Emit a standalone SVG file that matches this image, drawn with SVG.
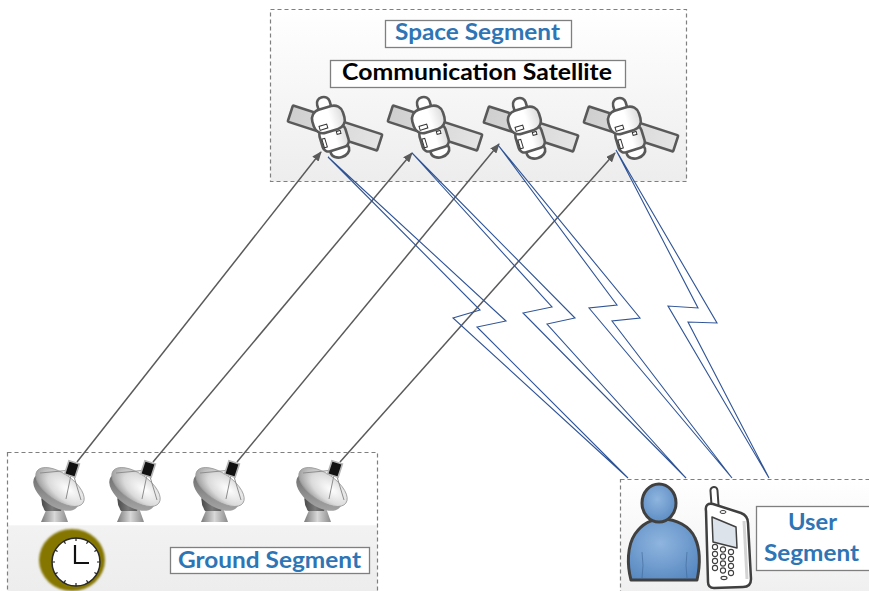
<svg xmlns="http://www.w3.org/2000/svg" xmlns:xlink="http://www.w3.org/1999/xlink" width="869" height="591" viewBox="0 0 869 591">
  <style>
    .seg { stroke: #7f7f7f; stroke-width: 1.2; stroke-dasharray: 4 3; }
    .lbl { fill: #ffffff; stroke: #7f7f7f; stroke-width: 1.3; }
    .txt { font-family: Lato, "Liberation Sans", sans-serif; font-weight: 700; }
    .blue { fill: #2e75b6; }
    .dark { stroke: #595959; stroke-width: 2.6; stroke-linejoin: round; }
    .arrow { stroke: #5a5a5a; stroke-width: 1.5; fill: none; }
    .bolt { stroke: #2f5496; stroke-width: 1.1; fill: none; stroke-linejoin: miter; }
    .ink { stroke: #404040; stroke-linejoin: round; }
  </style>
  <defs>
    <linearGradient id="gBox" x1="0" y1="0" x2="0" y2="1">
      <stop offset="0" stop-color="#ffffff"/>
      <stop offset="1" stop-color="#ededed"/>
    </linearGradient>
    <linearGradient id="gGround" x1="0" y1="0" x2="0" y2="1">
      <stop offset="0" stop-color="#ffffff"/>
      <stop offset="0.48" stop-color="#ffffff"/>
      <stop offset="0.49" stop-color="#f2f2f2"/>
      <stop offset="1" stop-color="#ececec"/>
    </linearGradient>
    <linearGradient id="gPanel" x1="0" y1="0" x2="1" y2="0">
      <stop offset="0" stop-color="#cfcfcf"/>
      <stop offset="1" stop-color="#e4e4e4"/>
    </linearGradient>
    <linearGradient id="gBody" x1="0" y1="0" x2="1" y2="0">
      <stop offset="0" stop-color="#ffffff"/>
      <stop offset="0.55" stop-color="#ffffff"/>
      <stop offset="1" stop-color="#dcdcdc"/>
    </linearGradient>
    <radialGradient id="gDish" cx="0.65" cy="0.4" r="0.7">
      <stop offset="0" stop-color="#ffffff"/>
      <stop offset="0.6" stop-color="#dadada"/>
      <stop offset="1" stop-color="#9a9a9a"/>
    </radialGradient>
    <linearGradient id="gDishBack" x1="0" y1="0" x2="1" y2="1">
      <stop offset="0" stop-color="#5e5e5e"/>
      <stop offset="1" stop-color="#b0b0b0"/>
    </linearGradient>
    <linearGradient id="gPed" x1="0" y1="0" x2="1" y2="0">
      <stop offset="0" stop-color="#4a4a4a"/>
      <stop offset="0.5" stop-color="#7a7a7a"/>
      <stop offset="1" stop-color="#555555"/>
    </linearGradient>
    <linearGradient id="gBase" x1="0" y1="0" x2="1" y2="0">
      <stop offset="0" stop-color="#7a7a7a"/>
      <stop offset="0.5" stop-color="#d8d8d8"/>
      <stop offset="1" stop-color="#8a8a8a"/>
    </linearGradient>
    <radialGradient id="gPerson" cx="0.45" cy="0.4" r="0.7">
      <stop offset="0" stop-color="#8fb5df"/>
      <stop offset="1" stop-color="#5687c0"/>
    </radialGradient>
    <filter id="soft" x="-20%" y="-20%" width="140%" height="140%">
      <feGaussianBlur stdDeviation="1.2"/>
    </filter>
    <marker id="ah" viewBox="0 0 10 8" refX="9" refY="4" markerWidth="10" markerHeight="8" markerUnits="userSpaceOnUse" orient="auto">
      <path d="M0,0 L10,4 L0,8 Z" fill="#5a5a5a"/>
    </marker>

    <!-- satellite icon, origin at the middle of the solar panel -->
    <g id="sat-shape">
      <rect x="-47" y="-8.5" width="94" height="17" rx="1" transform="rotate(18)" fill="url(#gPanel)" class="dark"/>
      <g transform="translate(-4,0) rotate(-17)">
        <ellipse cx="2" cy="24" rx="9.5" ry="7" fill="#ffffff" class="dark"/>
        <rect x="-6.5" y="-32" width="13" height="16" rx="6" fill="#ffffff" class="dark"/>
        <rect x="-13.5" y="-1" width="27" height="23" rx="6" fill="url(#gBody)" class="dark"/>
        <rect x="-16" y="-21" width="32" height="24" rx="9.5" fill="url(#gBody)" class="dark"/>
        <rect x="-11" y="-5" width="8" height="4" fill="#ffffff" stroke="#333" stroke-width="1"/>
        <rect x="4" y="5" width="4" height="3" fill="#ffffff" stroke="#333" stroke-width="1"/>
        <rect x="-12" y="8" width="3" height="9" fill="#ffffff" stroke="#333" stroke-width="1"/>
      </g>
    </g>

    <!-- ground antenna icon, origin at the dish centre -->
    <g id="dish-shape">
      <path d="M-19,35 L8,35 L3,21 L-13,21 Z" fill="url(#gBase)"/>
      <path d="M-17,4 Q-21,15 -15,24 L1,24 Q5,14 1,4 Z" fill="url(#gPed)"/>
      <ellipse cx="-4" cy="5" rx="26" ry="14" transform="rotate(35 -4 5)" fill="url(#gDishBack)"/>
      <ellipse cx="0" cy="0" rx="28" ry="13.5" transform="rotate(35)" fill="url(#gDish)" stroke="#9a9a9a" stroke-width="0.8"/>
      <path d="M-20,-14 L12,-17 M12,-17 L6,12 M12,-17 L21,13" stroke="#8e8e8e" stroke-width="1"/>
      <rect x="6.5" y="-25" width="11" height="14" transform="rotate(18 12 -18)" fill="#111111" stroke="#b5b5b5" stroke-width="1.6"/>
    </g>
  </defs>

  <rect x="0" y="0" width="869" height="591" fill="#ffffff"/>

  <!-- space segment -->
  <g id="space-segment">
    <rect x="270.5" y="9.5" width="416" height="172" fill="url(#gBox)" class="seg"/>
    <rect x="385.5" y="20.5" width="186" height="27" class="lbl"/>
    <text x="395" y="40" class="txt blue" font-size="22" textLength="165" lengthAdjust="spacingAndGlyphs">Space Segment</text>
  </g>

  <g id="communication-satellite">
    <rect x="330.5" y="60.5" width="295" height="27" class="lbl"/>
    <text x="342" y="80" class="txt" fill="#000000" font-size="22" textLength="270" lengthAdjust="spacingAndGlyphs">Communication Satellite</text>
  </g>

  <g id="sat-1"><use xlink:href="#sat-shape" transform="translate(335,128)"/></g>
  <g id="sat-2"><use xlink:href="#sat-shape" transform="translate(435,128)"/></g>
  <g id="sat-3"><use xlink:href="#sat-shape" transform="translate(531,129)"/></g>
  <g id="sat-4"><use xlink:href="#sat-shape" transform="translate(631,129)"/></g>

  <!-- ground segment -->
  <g id="ground-segment">
    <rect x="7.5" y="452.5" width="370" height="150" fill="url(#gGround)" class="seg"/>
    <rect x="170.5" y="547.5" width="199" height="26" class="lbl"/>
    <text x="178" y="568" class="txt blue" font-size="23" textLength="183" lengthAdjust="spacingAndGlyphs">Ground Segment</text>
  </g>

  <g id="antenna-1"><use xlink:href="#dish-shape" transform="translate(60,487)"/></g>
  <g id="antenna-2"><use xlink:href="#dish-shape" transform="translate(136,487)"/></g>
  <g id="antenna-3"><use xlink:href="#dish-shape" transform="translate(220,487)"/></g>
  <g id="antenna-4"><use xlink:href="#dish-shape" transform="translate(323,487)"/></g>

  <g id="clock">
    <ellipse cx="72" cy="560" rx="33" ry="31" fill="#857600" filter="url(#soft)"/>
    <circle cx="76" cy="562" r="24" fill="#ffffff" stroke="#2a2a2a" stroke-width="1.5"/>
    <g stroke="#222" stroke-width="1.2">
      <path d="M76,538 v3 M76,586 v-3 M52,562 h3 M100,562 h-3 M88,541.2 l-1.5,2.6 M97,550 l-2.6,1.5 M97,574 l-2.6,-1.5 M88,582.8 l-1.5,-2.6 M64,582.8 l1.5,-2.6 M55,574 l2.6,-1.5 M55,550 l2.6,1.5 M64,541.2 l1.5,2.6"/>
    </g>
    <path d="M75,545 V563 H89" fill="none" stroke="#111" stroke-width="2.2"/>
  </g>

  <!-- user segment -->
  <g id="user-segment">
    <rect x="620.5" y="479.5" width="260" height="130" fill="url(#gBox)" class="seg"/>
    <rect x="756.5" y="506.5" width="120" height="64" class="lbl"/>
    <text x="788" y="530" class="txt blue" font-size="23" textLength="49" lengthAdjust="spacingAndGlyphs">User</text>
    <text x="764" y="561" class="txt blue" font-size="23" textLength="95" lengthAdjust="spacingAndGlyphs">Segment</text>
  </g>

  <g id="user">
    <path d="M631,580 C627,565 627,546 635,534 C642,524 651,519 662,519 C676,519 690,526 695,538 C701,551 700,566 697,580 Z" fill="url(#gPerson)" class="ink" stroke-width="3"/>
    <path d="M642,552 Q644,566 642,578 M687,552 Q685,566 687,578" fill="none" stroke="#3d6796" stroke-width="1" opacity="0.6"/>
    <ellipse cx="659" cy="503" rx="17" ry="19" fill="url(#gPerson)" class="ink" stroke-width="3"/>
  </g>

  <g id="phone">
    <rect x="711" y="487" width="7" height="22" rx="3.5" transform="rotate(-4 714 498)" fill="#ffffff" class="ink" stroke-width="2"/>
    <path d="M706,511 C705,505 708,503 713,504 L741,513 C746,515 748,518 748,523 L751,579 C751,585 748,587 743,587 L714,588 C710,588 708,586 708,582 Z" fill="#ffffff" class="ink" stroke-width="2.5"/>
    <path d="M744,521 L747,579" stroke="#d4d4d4" stroke-width="3"/>
    <ellipse cx="723" cy="512" rx="3" ry="1.5" fill="none" stroke="#404040" stroke-width="1"/>
    <path d="M712,517 L736,527 L737,548 L713,542 Z" fill="#dde3ea" class="ink" stroke-width="1.5"/>
    <g fill="#ffffff" stroke="#404040" stroke-width="1.1">
      <circle cx="715" cy="547" r="2.6"/><circle cx="723" cy="549.5" r="2.6"/><circle cx="731" cy="552" r="2.6"/>
      <circle cx="715" cy="554" r="2.6"/><circle cx="723" cy="556.5" r="2.6"/><circle cx="731" cy="559" r="2.6"/>
      <circle cx="715" cy="561" r="2.6"/><circle cx="723" cy="563.5" r="2.6"/><circle cx="731" cy="566" r="2.6"/>
      <circle cx="715" cy="568" r="2.6"/><circle cx="723" cy="570.5" r="2.6"/><circle cx="731" cy="573" r="2.6"/>
      <ellipse cx="724" cy="578" rx="3" ry="1.6"/>
    </g>
  </g>

  <!-- links: uplinks from ground antennas, lightning links to users -->
  <g id="connectors">
    <line x1="77" y1="462" x2="321" y2="152" class="arrow" marker-end="url(#ah)"/>
    <line x1="153" y1="462" x2="412" y2="153" class="arrow" marker-end="url(#ah)"/>
    <line x1="237" y1="462" x2="499" y2="144" class="arrow" marker-end="url(#ah)"/>
    <line x1="340" y1="462" x2="615" y2="153" class="arrow" marker-end="url(#ah)"/>

    <path d="M328,157 L480,310 L453,318 L628,478 L477,327 L506,321 Z" class="bolt"/>
    <path d="M412,153 L552,307 L523,313 L686,478 L547,324 L575,318 Z" class="bolt"/>
    <path d="M498,145 L617,305 L589,308 L732,478 L612,321 L640,318 Z" class="bolt"/>
    <path d="M616,150 L698,308 L668,306 L769,478 L688,322 L717,323 Z" class="bolt"/>
  </g>
</svg>
